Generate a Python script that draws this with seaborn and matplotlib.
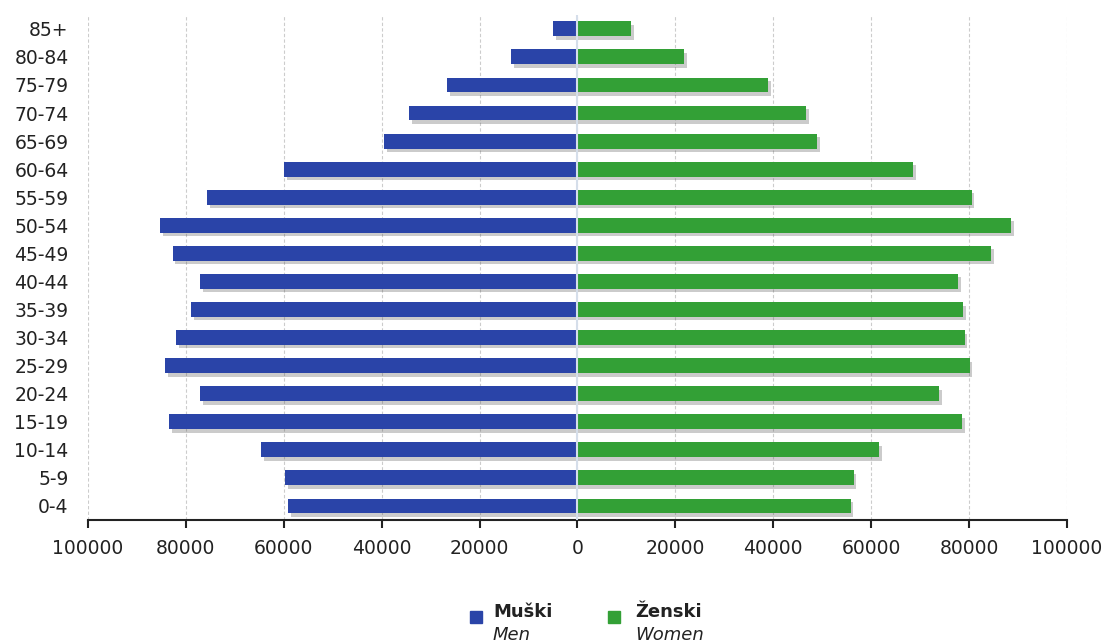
import numpy as np
import pandas as pd
import matplotlib
matplotlib.use("Agg")
import matplotlib.pyplot as plt
import matplotlib.patheffects as pe
from matplotlib.patches import Rectangle
import seaborn as sns

# ---------------- DATA ----------------
age_groups = ["85+", "80-84", "75-79", "70-74", "65-69", "60-64", "55-59",
              "50-54", "45-49", "40-44", "35-39", "30-34", "25-29", "20-24",
              "15-19", "10-14", "5-9", "0-4"]

men = [4900, 13500, 26600, 34400, 39500, 59900, 75700, 85300, 82700,
       77100, 79000, 82000, 84300, 77100, 83500, 64600, 59700, 59100]

women = [10900, 21800, 39000, 46700, 48900, 68600, 80500, 88600, 84500,
         77700, 78800, 79100, 80100, 73800, 78600, 61600, 56400, 55800]

x_ticks = [-100000, -80000, -60000, -40000, -20000, 0,
           20000, 40000, 60000, 80000, 100000]

men_color = "#2A44A8"
women_color = "#33A036"

df = pd.DataFrame({
    "age": age_groups * 2,
    "value": [-v for v in men] + women,
    "sex": ["Muški"] * len(men) + ["Ženski"] * len(women),
})

# ---------------- PLOT ----------------
sns.set_style("white")
plt.rcParams["font.family"] = ["DejaVu Sans"]

fig = plt.figure(figsize=(11.05, 6.42), dpi=100)
ax = fig.add_axes([0.0796, 0.19, 0.8860, 0.787])

sns.barplot(
    data=df, x="value", y="age", hue="sex", order=age_groups,
    hue_order=["Muški", "Ženski"], palette=[men_color, women_color],
    orient="h", dodge=False, width=0.53, ax=ax, legend=False,
    saturation=1,
)

shadow = [pe.SimplePatchShadow(offset=(2, -2.5), alpha=0.3, shadow_rgbFace="#555555"),
          pe.Normal()]
for bar in ax.patches:
    bar.set_edgecolor("none")
    bar.set_path_effects(shadow)

ax.set_xlim(-100000, 100000)
ax.set_ylim(len(age_groups) - 0.5, -0.5)
ax.set_xticks(x_ticks)
ax.set_xticklabels([str(abs(t)) for t in x_ticks], fontsize=13.5, color="#222222")
ax.tick_params(axis="x", bottom=True, direction="out", length=6, width=1.5,
               color="#222222", pad=8)
ax.tick_params(axis="y", left=False, length=0, pad=14, labelsize=13.5,
               labelcolor="#222222")

ax.set_xlabel("")
ax.set_ylabel("")

ax.xaxis.grid(True, linestyle=(0, (3, 2)), color="#CCCCCC", linewidth=0.8)
ax.set_axisbelow(True)
ax.axvline(0, color="#D5DEEA", linewidth=1.5, zorder=3)

for side in ["left", "right", "top"]:
    ax.spines[side].set_visible(False)
ax.spines["bottom"].set_color("#222222")
ax.spines["bottom"].set_linewidth(1.5)

# ---------------- LEGEND ----------------
fig.patches.append(Rectangle((470 / 1105, 1 - 623 / 642), 12 / 1105, 12 / 642,
                             transform=fig.transFigure, color=men_color))
fig.patches.append(Rectangle((608 / 1105, 1 - 623 / 642), 12 / 1105, 12 / 642,
                             transform=fig.transFigure, color=women_color))
fig.text(493 / 1105, 1 - 617 / 642, "Muški", fontsize=13, fontweight="bold",
         color="#222222", va="baseline")
fig.text(493 / 1105, 1 - 640 / 642, "Men", fontsize=13, fontstyle="italic",
         color="#222222", va="baseline")
fig.text(635 / 1105, 1 - 617 / 642, "Ženski", fontsize=13, fontweight="bold",
         color="#222222", va="baseline")
fig.text(635 / 1105, 1 - 640 / 642, "Women", fontsize=13, fontstyle="italic",
         color="#222222", va="baseline")

fig.savefig("out.png", dpi=100)
